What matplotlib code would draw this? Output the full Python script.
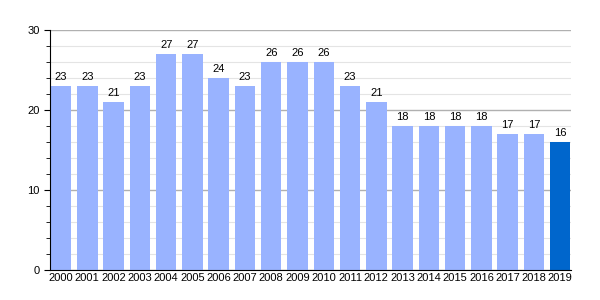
import numpy as np
import matplotlib.pyplot as plt
from matplotlib.ticker import MultipleLocator

years = [str(y) for y in range(2000, 2020)]
values = [23, 23, 21, 23, 27, 27, 24, 23, 26, 26, 26, 23, 21, 18, 18, 18, 18, 17, 17, 16]
colors = ["#99b3ff"] * 19 + ["#0066cc"]

fig = plt.figure(figsize=(6, 3), dpi=100)
ax = fig.add_axes([50 / 600, 30 / 300, 521 / 600, 240 / 300])

x = np.arange(len(years))
ax.bar(x, values, width=0.78, color=colors, zorder=2)
for xi, v in zip(x, values):
    ax.text(xi, v + 0.45, str(v), ha="center", va="bottom", fontsize=8, family="Liberation Sans")

ax.set_xlim(-0.42, len(years) - 0.59)
ax.set_ylim(0, 30)
ax.yaxis.set_major_locator(MultipleLocator(10))
ax.yaxis.set_minor_locator(MultipleLocator(2))
ax.grid(axis="y", which="major", color="#b0b0b0", lw=1, zorder=0)
ax.grid(axis="y", which="minor", color="#e4e4e4", lw=0.8, zorder=0)
ax.set_xticks(x)
ax.set_xticklabels(years, fontsize=8, family="Liberation Sans")
ax.tick_params(axis="y", labelsize=8, length=4, color="black")
ax.tick_params(axis="y", which="minor", length=3)
ax.tick_params(axis="x", length=0, pad=2)
for lbl in ax.get_yticklabels():
    lbl.set_family("Liberation Sans")
for s in ["top", "right"]:
    ax.spines[s].set_visible(False)
ax.spines["left"].set_color("black")
ax.spines["bottom"].set_color("black")

fig.savefig("out.png", dpi=100)
